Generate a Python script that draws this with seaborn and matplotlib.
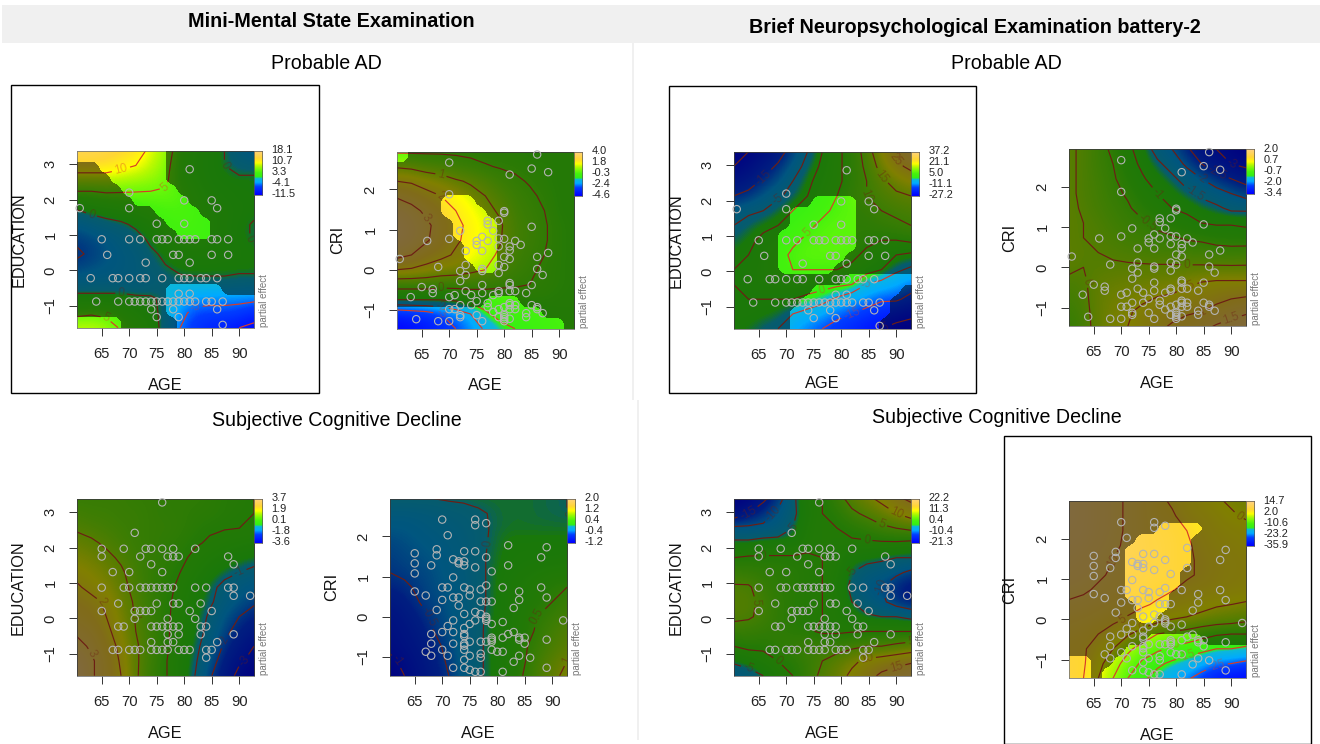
import numpy as np
import matplotlib
matplotlib.use("Agg")
import matplotlib.pyplot as plt
from matplotlib.colors import LinearSegmentedColormap, ListedColormap
from matplotlib.patches import Rectangle
import seaborn as sns

# ---------- observations ----------
PAD_EDU_AGE = [81,70,80,85,61,70,86,75,80,65,70,72,75,76,77,79,80,81,82,85,86,88,66,78,79,85,88,73,81,
               63,67,68,70,72,73,76,79,80,81,83,84,86,79,81,
               64,68,70,71,72,73,74,75,76,77,78,79,80,81,82,84,85,87,74,78,86,75,79,87]
PAD_EDU_VAL = [2.86,2.2,1.98,1.98,1.76,1.76,1.76,1.32,1.32]+[.88]*13+[.44]*5+[.22]*2+[-.22]*13+[-.66]*2+[-.88]*18+[-1.1]*3+[-1.32]*2+[-1.54]

PAD_CRI_AGE = [86,70,85,88,81,70,80,80,77,77,79,85,78,72,76,70,79,80,66,75,77,82,83,75,79,81,81,73,76,88,
               86,80,81,61,79,73,68,80,86,76,76,72,79,73,87,72,81,81,76,85,65,67,67,73,79,81,82,76,79,84,
               74,71,78,63,70,75,77,81,85,72,74,81,82,77,86,80,79,70,71,81,82,86,78,87,75,72,80,84,84,79,
               72,80,81,64,80,70,68,76,80]
PAD_CRI_VAL = [2.87,2.67,2.52,2.43,2.37,1.88,1.46,1.42,1.22,1.13,1.22,1.07,.97,.97,.82,.77,.78,.77,.72,.72,.72,.72,.62,.62,.58,.58,.48,.47,.47,.42,
               .32,.32,.27,.27,.12,.12,.07,.07,.02,.02,-.03,-.03,-.08,-.13,-.13,-.28,-.33,-.38,-.38,-.38,-.43,-.48,-.58,-.53,-.53,-.53,-.53,-.58,-.58,-.58,
               -.63,-.63,-.63,-.68,-.68,-.78,-.83,-.83,-.88,-.88,-.88,-.88,-.88,-.93,-.93,-.93,-.98,-.98,-.98,-.98,-.98,-.98,-1.05,-1.08,-1.13,-1.13,-1.13,-1.08,-1.18,-1.18,
               -1.18,-1.18,-1.22,-1.23,-1.23,-1.28,-1.28,-1.28,-1.28]

SCD_EDU_AGE = [76,71,65,69,73,74,76,78,82,65,72,77,78,79,88,74,89,67,70,76,
               65,69,70,72,73,74,75,76,77,78,82,84,88,89,89,92,68,75,78,79,83,
               65,71,72,73,74,81,85,71,77,82,68,69,74,75,76,77,78,79,83,84,77,79,83,89,74,77,78,86,
               67,68,70,71,72,74,75,76,77,79,80,81,84,85,84]
SCD_EDU_VAL = [3.28,2.42]+[1.97]*7+[1.75]*6+[1.53]*2+[1.31]*3+[.87]*14+[.64]*2+[.42]*5+[.21]*7+[-.01]*3+[-.23]*10+[-.45]*4+[-.67]*4+[-.89]*14+[-1.11]

SCD_CRI_AGE = [76,70,76,78,71,82,89,69,74,76,65,69,88,78,72,74,73,73,65,74,68,82,76,79,65,72,
               78,70,71,74,81,88,75,77,65,84,67,75,72,73,89,70,84,77,78,79,73,83,69,76,74,77,78,78,72,76,92,78,75,79,81,
               71,74,70,72,83,68,74,82,74,81,79,84,85,79,84,89,79,75,77,78,85,68,72,74,74,74,70,79,80,81,67,77,68,71,75,84,77,86,74,83,
               72,74,89,75,76,77,81]
SCD_CRI_VAL = [2.42,2.42,2.28,2.33,2.03,1.78,1.73,1.68,1.63,1.63,1.58,1.53,1.48,1.48,1.43,1.38,1.38,1.33,1.33,1.28,1.28,1.28,1.23,1.13,1.08,.98,
               .78,.73,.73,.73,.73,.73,.68,.68,.63,.63,.53,.53,.48,.48,.48,.42,.42,.38,.38,.38,.28,.22,.17,.12,.07,.07,0,-.05,-.09,-.09,-.09,-.1,-.18,-.18,-.13,
               -.23,-.28,-.38,-.38,-.38,-.43,-.43,-.43,-.48,-.52,-.52,-.52,-.52,-.57,-.57,-.57,-.62,-.62,-.62,-.62,-.67,-.67,-.67,-.67,-.72,-.82,-.82,-.82,-.87,-.87,-.87,-.92,-.97,-.97,-.97,-.97,-1.02,-1.02,-1.07,-1.12,
               -1.27,-1.27,-1.27,-1.32,-1.37,-1.37,-1.37]

# ---------- partial effect read at 13 x 13 positions, top row first ----------
MMSE_PAD_EDU = [
 [15,15,14,13,12,9,7,3,2,1,0,-2,-4],
 [12,12,12,11,10,8,6,3,1.5,1,0,-1,-1],
 [8,8,8,7.5,7,6.5,5.5,3,2,1,.5,.5,.5],
 [4,4,4.5,4.5,4.5,4.5,4.5,4,2.5,1.5,1,.5,.5],
 [0,1,1.5,2,2.5,3,3.5,3.5,3,2,1.5,1,.5],
 [-3,-2,-1,-.5,.5,1.5,2.5,3,3,2,1.5,.5,-.2],
 [-4.5,-4,-3,-2,-1,.5,1.5,2.5,2.5,2,1.5,.5,-.2],
 [-5.5,-4.5,-3.5,-2.5,-2,-.5,.5,1.5,1.5,1.5,1,1,.5],
 [-4,-3.5,-3,-2.5,-2,-1,-.2,.3,.5,.5,.5,.5,.5],
 [-2,-2,-2,-2,-2,-1.5,-1,-.5,-.5,-.5,-.5,-1,-1],
 [1,1,1,1,.5,.3,-.5,-3,-3.5,-4,-4,-4,-4],
 [4,4.5,4,3,2,1,-1,-4,-6,-6,-6,-6.5,-8],
 [8,8,7,4.5,3,2,-1.5,-5,-7,-8.5,-9,-10,-11]]
MMSE_PAD_CRI = [
 [-.1,-.1,-.1,-.1,-.1,-.15,-.2,-.2,-.2,-.3,-.3,-.3,-.3],
 [.9,.8,.6,.5,.3,.2,.05,-.05,-.1,-.2,-.2,-.3,-.3],
 [2,1.9,1.6,1.4,1.1,.9,.6,.3,.1,-.05,-.2,-.3,-.3],
 [2.9,2.6,2.3,2,1.7,1.3,1,.6,.3,.1,-.1,-.3,-.3],
 [3.6,3.3,2.8,2.4,2,1.6,1.2,.9,.4,.2,0,-.3,-.3],
 [3.8,3.5,3.2,2.6,2.2,1.8,1.4,1.1,.5,.3,.05,-.2,-.3],
 [3.8,3.5,3.1,2.6,2.1,1.8,1.4,1.05,.5,.3,.05,-.2,-.3],
 [3.3,3,2.5,2.2,1.9,1.6,1.2,.9,.4,.2,0,-.2,-.3],
 [2,1.9,1.7,1.5,1.4,1.2,1,.6,.3,.1,-.1,-.2,-.3],
 [.4,.4,.4,.3,.3,.3,.2,.1,.05,0,-.1,-.2,-.3],
 [-.9,-.9,-.9,-.9,-.8,-.6,-.4,-.3,-.2,-.2,-.2,-.3,-.3],
 [-3.8,-3.6,-3.4,-3,-2.5,-2,-1.2,-.6,-.6,-.6,-.4,-.3,-.3],
 [-4.5,-4.3,-4,-3.6,-3,-2.4,-1.9,-1.4,-1,-.8,-.6,-.4,-.3]]
BNE_PAD_EDU = [
 [-27,-25,-22,-18,-12,-5,0,4,7,12,20,27,33],
 [-25,-22,-18,-14,-8,-3,1,4,7,11,17,23,27],
 [-20,-18,-14,-10,-5,-1,2,4,7,10,14,17,20],
 [-15,-13,-9,-6,-3,0,3,5,8,10,12,14,15],
 [-8,-6,-5,-2,0,2,4,6,7,8,10,11,12],
 [-5,-3,-1,0,2,4,6,7,7,7,8,9,10],
 [-3,-1,1,2,4,6,7,7,7,6,5,5,6],
 [-1,0,2,3,6,7,7,7,6,4,2,0,-1],
 [0,1,2,3,5,5,5,5,4,2,0,-4,-6],
 [0,1,2,2,2,2,2,1,0,-5,-7,-9,-12],
 [0,0,0,0,0,-1,-3,-6,-9,-11,-14,-14,-17],
 [0,0,-1,-2,-5,-7,-9,-13,-15,-18,-20,-22,-24],
 [-1,-2,-4,-5,-9,-12,-15,-18,-20,-23,-25,-27,-27]]
BNE_PAD_CRI = [
 [.1,-.1,-.3,-.6,-.9,-1.2,-1.7,-2,-2.4,-2.9,-3,-3.2,-3.4],
 [.1,-.1,-.3,-.5,-.8,-1.1,-1.4,-1.7,-2.1,-2.5,-2.8,-3,-3.1],
 [.1,-.1,-.25,-.45,-.7,-.95,-1.2,-1.4,-1.7,-2,-2.3,-2.5,-2.7],
 [.1,-.1,-.2,-.4,-.55,-.8,-1,-1.2,-1.4,-1.6,-1.8,-2,-2.2],
 [.1,-.05,-.2,-.3,-.45,-.65,-.8,-1,-1.1,-1.3,-1.4,-1.6,-1.6],
 [.1,0,-.1,-.25,-.35,-.45,-.6,-.75,-.85,-1,-1.05,-1.05,-1.1],
 [.1,0,-.05,-.15,-.25,-.3,-.4,-.45,-.55,-.6,-.7,-.7,-.75],
 [.1,.05,0,-.05,-.1,-.15,-.2,-.2,-.25,-.25,-.3,-.35,-.3],
 [.1,0,.02,.05,.05,.05,.05,.05,.05,.05,.05,.05,.05],
 [-.1,-.05,.15,.2,.25,.25,.3,.3,.4,.5,.55,.55,.55],
 [-.2,-.1,.2,.3,.35,.4,.5,.55,.7,.75,.85,.95,1],
 [-.3,-.15,.2,.35,.45,.6,.75,.85,.95,1,1.15,1.3,1.4],
 [-.4,-.2,.2,.4,.5,.7,.9,1.05,1.15,1.35,1.55,1.7,1.9]]
MMSE_SCD_EDU = [
 [.5,.5,.5,.5,.4,.4,.3,.3,.3,.2,.1,.1,0],
 [.7,.6,.6,.5,.5,.4,.3,.3,.2,.2,.1,.05,0],
 [.9,.8,.7,.6,.5,.4,.4,.3,.15,.05,.02,0,-.05],
 [1.3,1.1,.9,.7,.5,.4,.3,.2,.05,-.05,-.15,-.2,-.3],
 [1.5,1.4,1.15,.9,.6,.4,.3,.1,-.1,-.25,-.4,-.6,-.7],
 [1.8,1.6,1.4,1.1,.7,.4,.2,0,-.2,-.5,-.8,-1,-1.2],
 [2.1,1.8,1.6,1.2,.8,.4,.15,-.1,-.4,-.8,-1.2,-1.4,-1.6],
 [2.4,2.2,1.9,1.35,.9,.5,.1,-.15,-.5,-.9,-1.3,-1.6,-1.9],
 [2.6,2.4,2,1.5,.95,.5,.1,-.2,-.6,-1.1,-1.6,-2,-2.3],
 [2.9,2.7,2.2,1.6,1,.55,.1,-.25,-.7,-1.2,-1.8,-2.3,-2.6],
 [3.2,2.9,2.4,1.8,1.1,.6,.1,-.3,-.8,-1.4,-2.1,-2.6,-3],
 [3.5,3.1,2.6,1.9,1.1,.6,.05,-.4,-.9,-1.6,-2.4,-2.9,-3.2],
 [3.7,3.1,2.6,2,1.1,.5,.05,-.4,-1,-1.9,-2.6,-3.2,-3.6]]
MMSE_SCD_CRI = [
 [0,0,0,0,.02,.03,.05,.05,.05,.05,.03,.02,0],
 [-.2,-.2,-.18,-.15,-.1,-.07,-.03,.02,.05,.05,.03,.02,0],
 [-.3,-.3,-.25,-.2,-.18,-.12,-.05,.02,.05,.05,.05,.05,.05],
 [-.4,-.35,-.3,-.25,-.2,-.15,-.05,.03,.1,.1,.1,.1,.1],
 [-.45,-.4,-.35,-.3,-.25,-.17,-.05,.05,.1,.15,.15,.15,.2],
 [-.5,-.45,-.4,-.35,-.25,-.17,-.05,.05,.15,.2,.25,.3,.3],
 [-.6,-.55,-.45,-.35,-.3,-.2,-.05,.05,.2,.25,.35,.45,.5],
 [-.75,-.65,-.5,-.4,-.3,-.2,-.05,.05,.2,.3,.4,.5,.6],
 [-.85,-.75,-.6,-.45,-.33,-.2,-.05,.08,.2,.35,.5,.6,.7],
 [-.9,-.8,-.7,-.5,-.35,-.2,-.05,.1,.25,.35,.55,.7,.8],
 [-.95,-.85,-.75,-.6,-.4,-.2,-.05,.1,.25,.45,.6,.75,.85],
 [-1.05,-.95,-.8,-.65,-.45,-.22,-.05,.1,.25,.45,.7,.85,1],
 [-1.2,-1,-.85,-.7,-.5,-.25,-.05,.1,.3,.5,.75,.9,1.1]]
BNE_SCD_EDU = [
 [-21,-20,-16,-12,-6,-1,0,3,7,9,11,14,16],
 [-18,-15,-12,-9,-6,-2,0,1,4,6,8,10,12],
 [-9,-9,-9,-8,-5,-1,0,0,1,2,4,5,6],
 [-4,-4,-3,-3,-3,-1,0,-.5,-.5,-.5,-.5,-.5,-1],
 [0,.5,.5,.5,.5,.5,0,-1,-3,-3.5,-4,-5,-5],
 [3,2.5,2,1.5,1,.5,0,-1,-5,-7,-8,-9,-11],
 [5.5,5.5,3,1.5,1,.5,0,-2,-6,-9,-10,-13,-15],
 [6,6,4,2,1,.5,0,-1,-5,-7,-9,-12,-14],
 [6,5.5,4,2,1,.3,0,-.5,-3,-4.5,-5,-5,-6],
 [3,3,2.5,2,1,.5,-.5,-.5,-.2,0,0,0,0],
 [0,1,.5,2,3,4,3,3,4,5,5,6,7],
 [-4,-3,-1,0,1,3,5,7,9,11,12,13,14],
 [-9,-7,-5,-1,0,3,6,8,11,13,16,18,20]]
BNE_SCD_CRI = [
 [14,13,12,11,9.5,8,6,4.5,3,2,.5,-.5,-1],
 [14,13,12,11,9.5,8,6.5,5.5,3.5,3,2,.5,-.5],
 [13.5,13,12,11,9.5,8,7,6.5,5,3.5,2.5,2,1.5],
 [13,12.5,11.5,10.5,9.5,8,7.5,6.5,5.5,4,3,2.5,2],
 [12.5,12,11,10,9,8,7.5,6.5,5.5,4.5,3.5,3,2.5],
 [12,11.5,10.5,9.5,8.5,8,7,6.5,5.5,4.5,3.5,3,2.5],
 [11,10.5,9.5,8.5,8,7,6,5.2,4,3.5,3,2.5,2],
 [9.5,9,8,7.5,6.5,5.5,4.5,3.2,2.5,1.5,.5,0,-.5],
 [8,7.5,7,6,4.5,3,1.5,0,-.5,-1.5,-2.5,-3,-4],
 [7,6.5,5,3,.5,-2,-5,-6,-7,-8.5,-9.5,-10,-10],
 [6,5.5,3,0,-4,-7,-9,-11,-12,-13,-15,-15,-16],
 [6,5.5,1.5,-3,-7,-11,-14,-16,-18,-21,-24,-25,-27],
 [7,5,0,-5,-10,-14,-17,-21,-24,-28,-32,-34,-35]]

# ---------- where the effect is significant (bright), 16 x 16, top row first ----------
BLANK = ["0" * 16] * 16
SIG_MMSE_PAD_EDU = ["1111111100000000","0011111100000000","0001111100000000","0000111110000000",
 "0000011111000000","0000000111100000","0000000011110000","0000000001110000",
 "0000000000000000","0000000000000000","0000000000000000","0000000000000000",
 "0000000011111000","0000000011111111","0000000011111111","1111000001111111"]
SIG_MMSE_PAD_CRI = ["1000000000000000","0000000000000000","0000000000000000","0000000000000000",
 "0000111000000000","0000111100000000","0000011110000000","0000011110000000",
 "0000001110000000","0000001110000000","0000000110000000","0000000000000000",
 "0000000000000000","0000000011100000","1111111111111000","1111111111111110"]
SIG_BNE_PAD_EDU = ["0000000000000000","0000000000000000","0000000000000000","0000000000000000",
 "0000000111100000","0000011111100000","0000011111100000","0000111111100000",
 "0000111111100000","0000111111000000","0000111110000000","0000000000111111",
 "0000000111111110","0000001111111100","0000011111111100","0000011111111000"]
SIG_BNE_SCD_CRI = ["0000000000000000","0000000000000000","0000000011110000","0000001111100000",
 "0000011111100000","0000011111100000","0000011111000000","0000011111000000",
 "0000011110000000","0000001110000000","0000001100000000","0000000000000000",
 "0000000111110000","0000011111111111","1100111111111111","1101111111111111"]

LEGEND_MMSE_PAD_EDU = ["18.1","10.7","3.3","-4.1","-11.5"]
LEGEND_MMSE_PAD_CRI = ["4.0","1.8","-0.3","-2.4","-4.6"]
LEGEND_BNE_PAD_EDU = ["37.2","21.1","5.0","-11.1","-27.2"]
LEGEND_BNE_PAD_CRI = ["2.0","0.7","-0.7","-2.0","-3.4"]
LEGEND_MMSE_SCD_EDU = ["3.7","1.9","0.1","-1.8","-3.6"]
LEGEND_MMSE_SCD_CRI = ["2.0","1.2","0.4","-0.4","-1.2"]
LEGEND_BNE_SCD_EDU = ["22.2","11.3","0.4","-10.4","-21.3"]
LEGEND_BNE_SCD_CRI = ["14.7","2.0","-10.6","-23.2","-35.9"]

AGE_TICKS = [65, 70, 75, 80, 85, 90]
EDU_TICKS = [-1, 0, 1, 2, 3]
CRI_TICKS = [-1, 0, 1, 2]

# ---------- styling ----------
W, H = 1320, 744
sns.set_theme(style="white")
FONT = ["Liberation Sans", "DejaVu Sans"]
plt.rcParams["font.family"] = FONT

effect_cmap = LinearSegmentedColormap.from_list("effect", [
    (0.00, (0, 0, 1)), (0.18, (0, .24, 1)), (0.28, (0, .67, 1)), (0.37, (.05, .72, .85)),
    (0.40, (.2, .94, .08)), (0.50, (.28, .95, .05)), (0.58, (.48, .98, .03)), (0.66, (.75, .98, 0)),
    (0.72, (1, 1, 0)), (0.82, (1, .84, .2)), (1.00, (1, .82, .51))])
LINE = "#d83c28"

fig = plt.figure(figsize=(W / 100, H / 100), dpi=100, facecolor="white")


def ftext(x, y, s, **kw):
    fig.text(x / W, 1 - y / H, s, **kw)


def frect(x0, y0, x1, y1, **kw):
    fig.add_artist(Rectangle((x0 / W, 1 - y1 / H), (x1 - x0) / W, (y1 - y0) / H,
                             transform=fig.transFigure, **kw))


frect(2, 5, 1320, 43, facecolor="#f0f0f0", edgecolor="none")
frect(632, 43, 634, 400, facecolor="#f0f0f0", edgecolor="none")
frect(636.5, 400, 638.5, 740, facecolor="#f0f0f0", edgecolor="none")
frect(11, 85, 319, 393, facecolor="none", edgecolor="black", linewidth=1)
frect(668.5, 86, 975.5, 392.5, facecolor="none", edgecolor="black", linewidth=1)
frect(1003.5, 436, 1311, 743.5, facecolor="none", edgecolor="black", linewidth=1)

ftext(331, 21.5, "Mini-Mental State Examination", ha="center", va="center", fontsize=14.2, fontweight="bold", color="black")
ftext(975, 27.5, "Brief Neuropsychological Examination battery-2", ha="center", va="center", fontsize=14.2, fontweight="bold", color="black")
ftext(326, 63.5, "Probable AD", ha="center", va="center", fontsize=14.1, color="black")
ftext(1006, 63.5, "Probable AD", ha="center", va="center", fontsize=14.1, color="black")
ftext(337, 420.5, "Subjective Cognitive Decline", ha="center", va="center", fontsize=14.1, color="black")
ftext(997, 417.5, "Subjective Cognitive Decline", ha="center", va="center", fontsize=14.1, color="black")


def panel(left, top, field, sig, xs, ys, ylabel, legend, levels, ylabel_x, age_y):
    right, bottom = left + 177.3, top + 177
    ax = fig.add_axes([left / W, 1 - bottom / H, (right - left) / W, (bottom - top) / H])
    edu = ylabel == "EDUCATION"
    x0, x1 = 60.45, 92.7
    y0, y1 = (-1.62, 3.385) if edu else (-1.467, 2.94)
    z = np.array(field, dtype=float)
    vmin, vmax = float(legend[-1]), float(legend[0])
    n = z.shape[0]
    dx, dy = (x1 - x0) / (n - 1) / 2, (y1 - y0) / (n - 1) / 2
    ax.imshow(z, extent=(x0 - dx, x1 + dx, y0 - dy, y1 + dy), origin="upper", aspect="auto",
              cmap=effect_cmap, vmin=vmin, vmax=vmax, interpolation="bicubic", zorder=1)
    gx, gy = np.linspace(x0, x1, n), np.linspace(y1, y0, n)
    cs = ax.contour(gx, gy, z, levels=levels, colors=LINE, linewidths=.85, linestyles="solid", zorder=2)
    for t in ax.clabel(cs, fmt="%g", fontsize=8.5, inline=True, inline_spacing=2):
        t.set_alpha(.4)
        t.set_zorder(2)
    mask = np.array([[int(c) for c in row] for row in sig], dtype=float)
    ax.imshow(1 - mask, extent=(x0, x1, y0, y1), origin="upper", aspect="auto",
              cmap=ListedColormap([(0, 0, 0, 0), (0, 0, 0, .5)]),
              vmin=0, vmax=1, interpolation="bilinear", zorder=3)
    sns.scatterplot(x=xs, y=ys, ax=ax, s=28, color="#b4b4b4", linewidth=.8, zorder=4, legend=False, clip_on=False)
    pts = ax.collections[-1]
    pts.set_facecolor("none")
    pts.set_edgecolor("#b4b4b4")
    ax.set_xlim(x0, x1)
    ax.set_ylim(y0, y1)
    ax.set_xticks(AGE_TICKS)
    ax.set_yticks(EDU_TICKS if edu else CRI_TICKS)
    ax.tick_params(axis="both", which="major", length=5.8, width=.7, color="#333333",
                   labelsize=10.6, pad=8, bottom=True, left=True, labelcolor="#222222")
    for t in ax.get_yticklabels():
        t.set_rotation(90)
        t.set_va("center")
    for s in ax.spines.values():
        s.set_visible(True)
        s.set_color("#777777")
        s.set_linewidth(.6)
    ax.grid(False)
    ax.set_xlabel("")
    ax.set_ylabel("")
    ftext(left + 88.6, age_y, "AGE", ha="center", va="center", fontsize=11.8, color="#111111")
    ftext(ylabel_x, (top + bottom) / 2, ylabel, ha="center", va="center", rotation=90, fontsize=11.7, color="#111111")
    # colour key
    cax = fig.add_axes([right / W, 1 - (top + 44.3) / H, 8.3 / W, 44.3 / H])
    cax.imshow(np.linspace(1, 0, 64)[:, None], aspect="auto", cmap=effect_cmap, vmin=0, vmax=1)
    cax.set_xticks([])
    cax.set_yticks([])
    for s in cax.spines.values():
        s.set_visible(True)
        s.set_color("#555555")
        s.set_linewidth(.5)
    for i, lab in enumerate(legend):
        ftext(right + 17.5, top - .5 + i * 11, lab, ha="left", va="center", fontsize=7.9, color="#222222")
    ftext(right + 10, bottom - 1, "partial effect", ha="center", va="bottom", rotation=90, fontsize=7, color="#777777")


panel(76.7, 150.7, MMSE_PAD_EDU, SIG_MMSE_PAD_EDU, PAD_EDU_AGE, PAD_EDU_VAL, "EDUCATION", LEGEND_MMSE_PAD_EDU, [-10, -5, 0, 5, 10], 19, 385)
panel(396.7, 151.7, MMSE_PAD_CRI, SIG_MMSE_PAD_CRI, PAD_CRI_AGE, PAD_CRI_VAL, "CRI", LEGEND_MMSE_PAD_CRI, [-3, -2, -1, 0, 1, 2, 3], 338, 385)
panel(733.7, 151.7, BNE_PAD_EDU, SIG_BNE_PAD_EDU, PAD_EDU_AGE, PAD_EDU_VAL, "EDUCATION", LEGEND_BNE_PAD_EDU, [-25, -15, -5, 0, 5, 10, 15, 25], 676, 384)
panel(1068.7, 149.3, BNE_PAD_CRI, BLANK, PAD_CRI_AGE, PAD_CRI_VAL, "CRI", LEGEND_BNE_PAD_CRI, [-3, -2.5, -2, -1.5, -1, -.5, 0, .5, 1, 1.5], 1010, 384)
panel(76.7, 498.7, MMSE_SCD_EDU, BLANK, SCD_EDU_AGE, SCD_EDU_VAL, "EDUCATION", LEGEND_MMSE_SCD_EDU, [-3, -2, -1, 0, 1, 2, 3], 18, 733)
panel(389.7, 498.7, MMSE_SCD_CRI, BLANK, SCD_CRI_AGE, SCD_CRI_VAL, "CRI", LEGEND_MMSE_SCD_CRI, [-1, -.5, 0, .5, 1], 332, 733)
panel(733.7, 498.7, BNE_SCD_EDU, BLANK, SCD_EDU_AGE, SCD_EDU_VAL, "EDUCATION", LEGEND_BNE_SCD_EDU, [-15, -10, -5, 0, 5, 10, 15], 676, 733)
panel(1068.7, 501.3, BNE_SCD_CRI, SIG_BNE_SCD_CRI, SCD_CRI_AGE, SCD_CRI_VAL, "CRI", LEGEND_BNE_SCD_CRI, [-25, -15, -10, -5, 0, 5, 10], 1010, 735)

fig.savefig("out.png", dpi=100)
